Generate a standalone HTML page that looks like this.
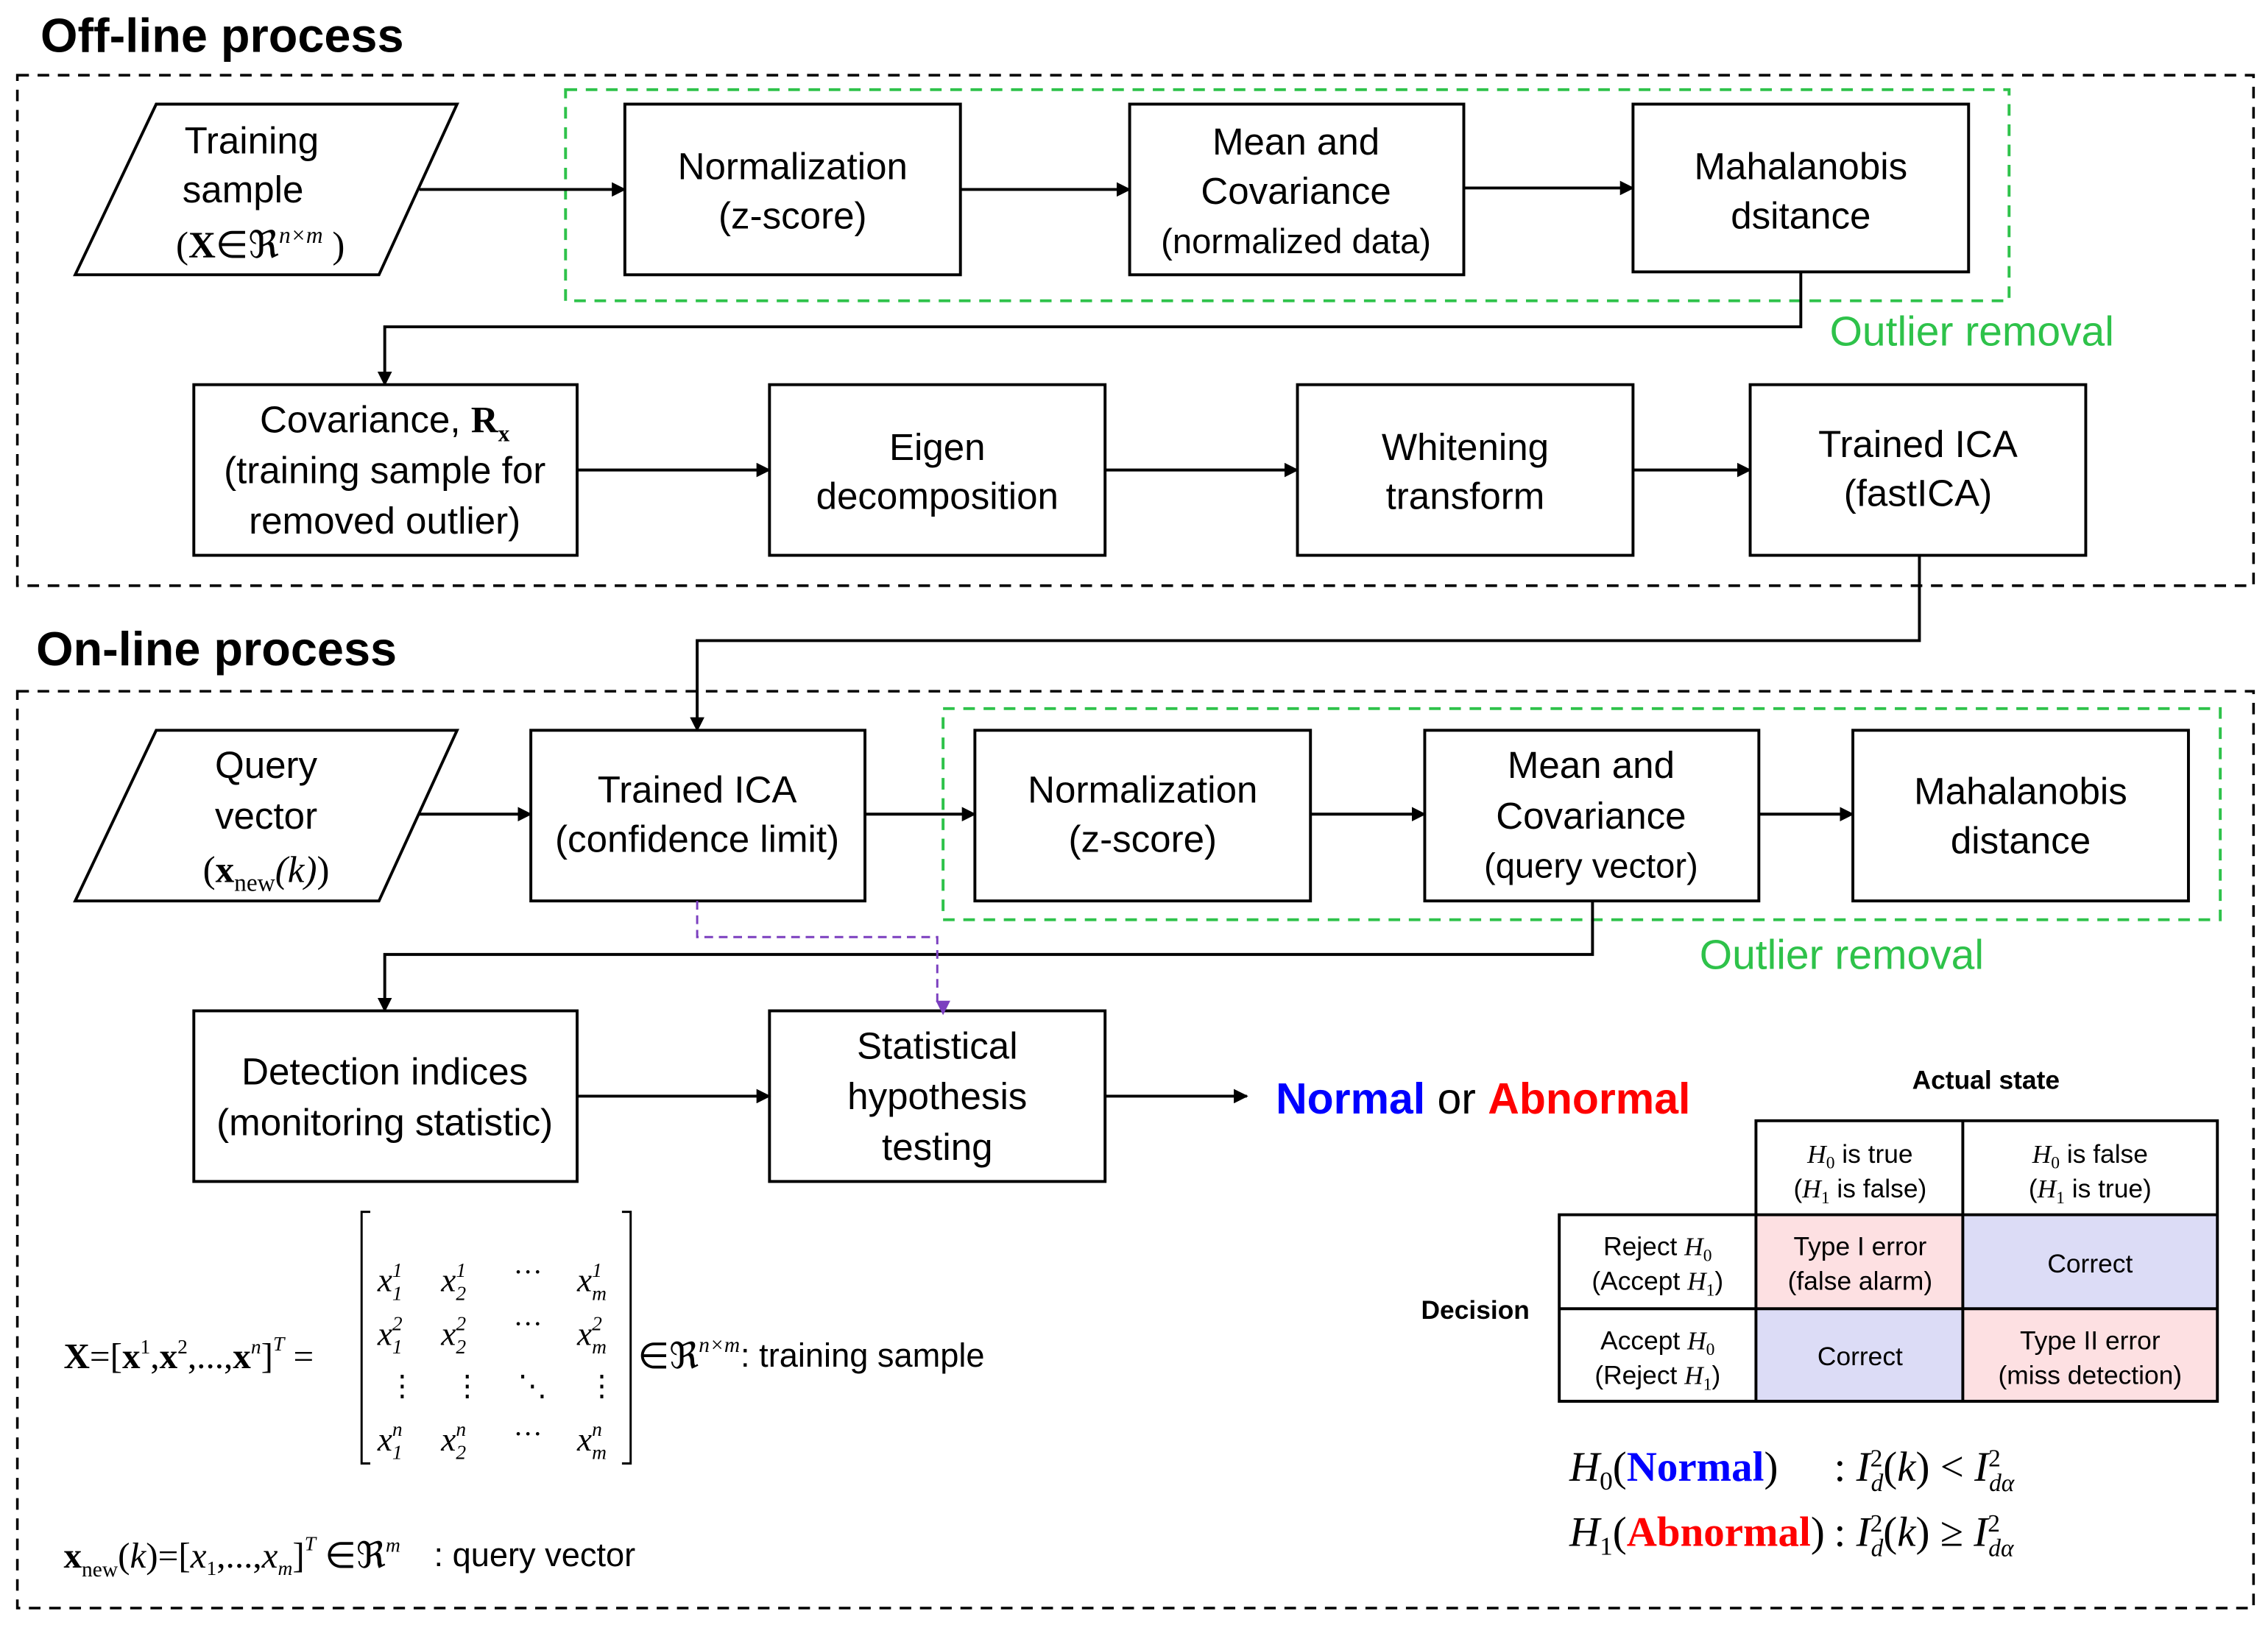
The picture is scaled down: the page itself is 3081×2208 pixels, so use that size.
<!DOCTYPE html>
<html><head><meta charset="utf-8"><style>
html,body{margin:0;padding:0;background:#fff}
svg{display:block}
text{font-family:"Liberation Sans",sans-serif}
.b{font-size:26px;text-anchor:middle;fill:#000}
.s,.s text,.s tspan,tspan.s,text.s{font-family:"Liberation Serif",serif}
.t{font-size:18px;text-anchor:middle}
</style></head><body>
<svg width="3081" height="2208" viewBox="0 0 1568 1123.7" xmlns="http://www.w3.org/2000/svg">
<defs>
<marker id="a" markerWidth="10" markerHeight="10" refX="9" refY="5" orient="auto" markerUnits="userSpaceOnUse"><path d="M0,0 L10,5 L0,10 z" fill="#000"/></marker>
<marker id="p" markerWidth="10" markerHeight="10" refX="5" refY="9" orient="auto" markerUnits="userSpaceOnUse"><path d="M0,0 L10,0 L5,10 z" fill="#7b3fbf" transform="rotate(-90 5 5)"/></marker>
</defs>
<g fill="none" stroke="#000" stroke-width="2">
<rect x="12" y="52" width="1546" height="353" stroke-dasharray="8,6" stroke-width="1.8"/>
<rect x="12" y="478" width="1546" height="634" stroke-dasharray="8,6" stroke-width="1.8"/>
<rect x="391" y="62" width="998" height="146" stroke="#2ec24a" stroke-dasharray="8,6"/>
<rect x="652" y="490" width="883" height="146" stroke="#2ec24a" stroke-dasharray="8,6"/>
<polygon points="108,72 316,72 262,190 52,190"/>
<rect x="432" y="72" width="232" height="118"/>
<rect x="781" y="72" width="231" height="118"/>
<rect x="1129" y="72" width="232" height="116"/>
<rect x="134" y="266" width="265" height="118"/>
<rect x="532" y="266" width="232" height="118"/>
<rect x="897" y="266" width="232" height="118"/>
<rect x="1210" y="266" width="232" height="118"/>
<polygon points="108,505 316,505 262,623 52,623"/>
<rect x="367" y="505" width="231" height="118"/>
<rect x="674" y="505" width="232" height="118"/>
<rect x="985" y="505" width="231" height="118"/>
<rect x="1281" y="505" width="232" height="118"/>
<rect x="134" y="699" width="265" height="118"/>
<rect x="532" y="699" width="232" height="118"/>
<g marker-end="url(#a)">
<line x1="290" y1="131" x2="432" y2="131"/><line x1="664" y1="131" x2="781" y2="131"/><line x1="1012" y1="130" x2="1129" y2="130"/>
<polyline points="1245,188 1245,226 266,226 266,266"/>
<line x1="399" y1="325" x2="532" y2="325"/><line x1="764" y1="325" x2="897" y2="325"/><line x1="1129" y1="325" x2="1210" y2="325"/>
<polyline points="1327,384 1327,443 482,443 482,505"/>
<line x1="290" y1="563" x2="367" y2="563"/><line x1="598" y1="563" x2="674" y2="563"/><line x1="906" y1="563" x2="985" y2="563"/><line x1="1216" y1="563" x2="1281" y2="563"/>
<polyline points="1101,623 1101,660 266,660 266,699"/>
<line x1="399" y1="758" x2="532" y2="758"/><line x1="764" y1="758" x2="862" y2="758"/>
</g>
<polyline points="482,623 482,648 648,648 648,697" stroke="#7b3fbf" stroke-width="1.5" stroke-dasharray="6,4" marker-end="url(#p)"/>
</g>
<text x="28" y="36" font-size="33" font-weight="bold">Off-line process</text>
<text x="25" y="460" font-size="33" font-weight="bold">On-line process</text>
<text x="1265" y="239" font-size="29" fill="#2ec24a">Outlier removal</text>
<text x="1175" y="670" font-size="29" fill="#2ec24a">Outlier removal</text>
<g class="b">
<text x="174" y="106">Training</text><text x="168" y="140">sample</text>
<text x="180" y="178" class="s" font-size="26">(<tspan font-weight="bold">X</tspan>∈ℜ<tspan font-size="16" dy="-10" font-style="italic">n×m</tspan><tspan dy="10"> )</tspan></text>
<text x="548" y="124">Normalization</text><text x="548" y="158">(z-score)</text>
<text x="896" y="107">Mean and</text><text x="896" y="141">Covariance</text><text x="896" y="175" font-size="24">(normalized data)</text>
<text x="1245" y="124">Mahalanobis</text><text x="1245" y="158">dsitance</text>
<text x="266" y="299">Covariance, <tspan class="s" font-weight="bold">R</tspan><tspan class="s" font-weight="bold" font-size="16" dy="6">x</tspan></text><text x="266" y="334">(training sample for</text><text x="266" y="369">removed outlier)</text>
<text x="648" y="318">Eigen</text><text x="648" y="352">decomposition</text>
<text x="1013" y="318">Whitening</text><text x="1013" y="352">transform</text>
<text x="1326" y="316">Trained ICA</text><text x="1326" y="350">(fastICA)</text>
<text x="184" y="538">Query</text><text x="184" y="573">vector</text>
<text x="184" y="610" class="s">(<tspan font-weight="bold">x</tspan><tspan font-size="17" dy="6">new</tspan><tspan dy="-6" font-style="italic">(k)</tspan>)</text>
<text x="482" y="555">Trained ICA</text><text x="482" y="589">(confidence limit)</text>
<text x="790" y="555">Normalization</text><text x="790" y="589">(z-score)</text>
<text x="1100" y="538">Mean and</text><text x="1100" y="573">Covariance</text><text x="1100" y="607" font-size="24">(query vector)</text>
<text x="1397" y="556">Mahalanobis</text><text x="1397" y="590">distance</text>
<text x="266" y="750">Detection indices</text><text x="266" y="785">(monitoring statistic)</text>
<text x="648" y="732">Statistical</text><text x="648" y="767">hypothesis</text><text x="648" y="802">testing</text>
</g>
<text x="882" y="770" font-size="30"><tspan fill="#0000ff" font-weight="bold">Normal</tspan> or <tspan fill="#ff0000" font-weight="bold">Abnormal</tspan></text>
<text x="1373" y="753" font-size="18" font-weight="bold" text-anchor="middle">Actual state</text>
<text x="1020" y="912" font-size="18" font-weight="bold" text-anchor="middle">Decision</text>
<rect x="1214" y="840" width="143" height="65" fill="#fde0e2"/>
<rect x="1357" y="840" width="176" height="65" fill="#dcdcf6"/>
<rect x="1214" y="905" width="143" height="64" fill="#dcdcf6"/>
<rect x="1357" y="905" width="176" height="64" fill="#fde0e2"/>
<g stroke="#000" stroke-width="2" fill="none">
<polyline points="1214,969 1214,775 1533,775 1533,969 1078,969 1078,840 1533,840"/>
<line x1="1357" y1="775" x2="1357" y2="969"/><line x1="1078" y1="905" x2="1533" y2="905"/>
</g>
<g class="t">
<text x="1286" y="804"><tspan class="s" font-style="italic">H</tspan><tspan class="s" font-size="12" dy="4">0</tspan><tspan dy="-4"> is true</tspan></text>
<text x="1286" y="828">(<tspan class="s" font-style="italic">H</tspan><tspan class="s" font-size="12" dy="4">1</tspan><tspan dy="-4"> is false)</tspan></text>
<text x="1445" y="804"><tspan class="s" font-style="italic">H</tspan><tspan class="s" font-size="12" dy="4">0</tspan><tspan dy="-4"> is false</tspan></text>
<text x="1445" y="828">(<tspan class="s" font-style="italic">H</tspan><tspan class="s" font-size="12" dy="4">1</tspan><tspan dy="-4"> is true)</tspan></text>
<text x="1146" y="868">Reject <tspan class="s" font-style="italic">H</tspan><tspan class="s" font-size="12" dy="4">0</tspan></text>
<text x="1146" y="892">(Accept <tspan class="s" font-style="italic">H</tspan><tspan class="s" font-size="12" dy="4">1</tspan><tspan dy="-4">)</tspan></text>
<text x="1146" y="933">Accept <tspan class="s" font-style="italic">H</tspan><tspan class="s" font-size="12" dy="4">0</tspan></text>
<text x="1146" y="957">(Reject <tspan class="s" font-style="italic">H</tspan><tspan class="s" font-size="12" dy="4">1</tspan><tspan dy="-4">)</tspan></text>
<text x="1286" y="868">Type I error</text><text x="1286" y="892">(false alarm)</text>
<text x="1445" y="880">Correct</text><text x="1286" y="944">Correct</text>
<text x="1445" y="933">Type II error</text><text x="1445" y="957">(miss detection)</text>
</g>
<g class="s" font-size="29">
<text x="1085" y="1024"><tspan font-style="italic">H</tspan><tspan font-size="18" dy="6">0</tspan><tspan dy="-6">(</tspan><tspan fill="#0000ff" font-weight="bold">Normal</tspan>)</text>
<text x="1268" y="1024">: <tspan font-style="italic">I</tspan><tspan font-size="17" dy="-10">2</tspan><tspan font-size="17" font-style="italic" dx="-8" dy="17">d</tspan><tspan dy="-7">(</tspan><tspan font-style="italic">k</tspan>) &lt; <tspan font-style="italic">I</tspan><tspan font-size="17" dy="-10">2</tspan><tspan font-size="17" font-style="italic" dx="-8" dy="17">dα</tspan></text>
<text x="1085" y="1069"><tspan font-style="italic">H</tspan><tspan font-size="18" dy="6">1</tspan><tspan dy="-6">(</tspan><tspan fill="#ff0000" font-weight="bold">Abnormal</tspan>)</text>
<text x="1268" y="1069">: <tspan font-style="italic">I</tspan><tspan font-size="17" dy="-10">2</tspan><tspan font-size="17" font-style="italic" dx="-8" dy="17">d</tspan><tspan dy="-7">(</tspan><tspan font-style="italic">k</tspan>) ≥ <tspan font-style="italic">I</tspan><tspan font-size="17" dy="-10">2</tspan><tspan font-size="17" font-style="italic" dx="-8" dy="17">dα</tspan></text>
</g>
<g class="s" font-size="25">
<text x="44" y="946"><tspan font-weight="bold">X</tspan>=[<tspan font-weight="bold">x</tspan><tspan font-size="14" dy="-10">1</tspan><tspan dy="10">,</tspan><tspan font-weight="bold">x</tspan><tspan font-size="14" dy="-10">2</tspan><tspan dy="10">,...,</tspan><tspan font-weight="bold">x</tspan><tspan font-size="14" dy="-10" font-style="italic">n</tspan><tspan dy="10">]</tspan><tspan font-size="14" dy="-12" font-style="italic">T</tspan><tspan dy="12"> =</tspan></text>
<g fill="none" stroke="#000" stroke-width="1.5"><polyline points="256,838 250,838 250,1012 256,1012"/><polyline points="430,838 436,838 436,1012 430,1012"/></g>
<g font-style="italic" font-size="23">
<text x="261" y="893">x<tspan font-size="14" dy="-10">1</tspan><tspan font-size="14" dx="-7" dy="16">1</tspan></text>
<text x="305" y="893">x<tspan font-size="14" dy="-10">1</tspan><tspan font-size="14" dx="-7" dy="16">2</tspan></text>
<text x="399" y="893">x<tspan font-size="14" dy="-10">1</tspan><tspan font-size="14" dx="-7" dy="16">m</tspan></text>
<text x="261" y="930">x<tspan font-size="14" dy="-10">2</tspan><tspan font-size="14" dx="-7" dy="16">1</tspan></text>
<text x="305" y="930">x<tspan font-size="14" dy="-10">2</tspan><tspan font-size="14" dx="-7" dy="16">2</tspan></text>
<text x="399" y="930">x<tspan font-size="14" dy="-10">2</tspan><tspan font-size="14" dx="-7" dy="16">m</tspan></text>
<text x="261" y="1003">x<tspan font-size="14" dy="-10">n</tspan><tspan font-size="14" dx="-7" dy="16">1</tspan></text>
<text x="305" y="1003">x<tspan font-size="14" dy="-10">n</tspan><tspan font-size="14" dx="-7" dy="16">2</tspan></text>
<text x="399" y="1003">x<tspan font-size="14" dy="-10">n</tspan><tspan font-size="14" dx="-7" dy="16">m</tspan></text>
</g>
<g font-size="20"><text x="355" y="886">···</text><text x="355" y="922">···</text><text x="355" y="998">···</text>
<text x="268" y="965">⋮</text><text x="313" y="965">⋮</text><text x="358" y="965">⋱</text><text x="406" y="965">⋮</text></g>
<text x="441" y="946">∈ℜ<tspan font-size="15" dy="-11" font-style="italic">n×m</tspan></text>
<text x="44" y="1084"><tspan font-weight="bold">x</tspan><tspan font-size="15" dy="6">new</tspan><tspan dy="-6">(</tspan><tspan font-style="italic">k</tspan>)=[<tspan font-style="italic">x</tspan><tspan font-size="14" dy="5">1</tspan><tspan dy="-5">,...,</tspan><tspan font-style="italic">x</tspan><tspan font-size="14" dy="5" font-style="italic">m</tspan><tspan dy="-5">]</tspan><tspan font-size="14" dy="-12" font-style="italic">T</tspan><tspan dy="12"> ∈ℜ</tspan><tspan font-size="14" dy="-11" font-style="italic">m</tspan></text>
</g>
<text x="512" y="945" font-size="23">: training sample</text>
<text x="300" y="1083" font-size="23">: query vector</text>
</svg>
</body></html>
